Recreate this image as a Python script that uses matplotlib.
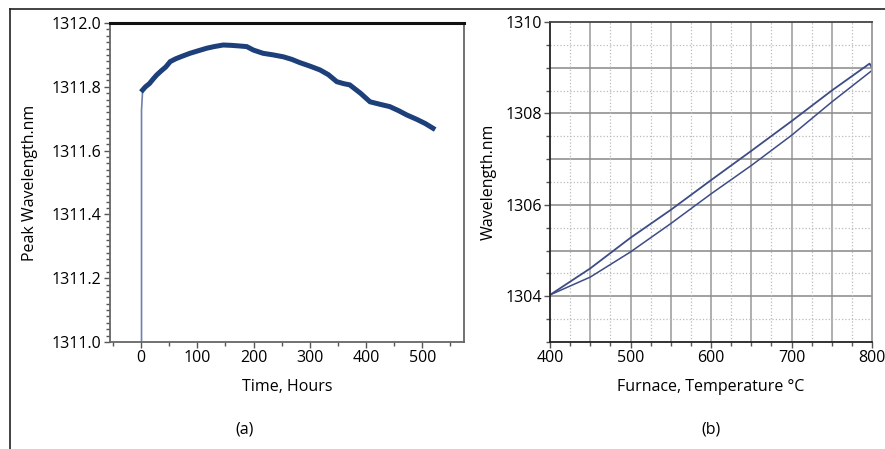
import matplotlib.pyplot as plt
from matplotlib.lines import Line2D
from matplotlib.ticker import MultipleLocator

plt.rcParams['font.family'] = ['Open Sans', 'DejaVu Sans']
FS = 11.5

# (a) peak wavelength versus time
time_jump = [1, 1, 3]
wl_jump = [1311.0, 1311.727, 1311.79]
time_h = [3, 8, 15, 22, 28, 36, 44, 52, 62, 72, 87, 100, 117, 130, 146, 160, 175,
          188, 200, 217, 235, 253, 268, 282, 300, 318, 333, 348, 360, 371, 390,
          407, 425, 442, 458, 472, 490, 505, 519]
wl_a = [1311.79, 1311.80, 1311.81, 1311.825, 1311.837, 1311.85, 1311.862, 1311.879,
        1311.888, 1311.895, 1311.905, 1311.912, 1311.921, 1311.926, 1311.931,
        1311.93, 1311.928, 1311.926, 1311.915, 1311.905, 1311.9, 1311.894,
        1311.886, 1311.876, 1311.865, 1311.853, 1311.838, 1311.816, 1311.81,
        1311.806, 1311.78, 1311.753, 1311.745, 1311.738, 1311.725, 1311.712,
        1311.698, 1311.685, 1311.67]

# (b) wavelength versus furnace temperature (heating / cooling loop)
temp_up = [400, 450, 500, 550, 600, 650, 700, 750, 797, 800]
wl_up = [1304.03, 1304.61, 1305.28, 1305.89, 1306.54, 1307.18, 1307.83, 1308.50,
         1309.09, 1309.0]
temp_down = [800, 750, 700, 650, 600, 550, 500, 450, 400]
wl_down = [1308.94, 1308.25, 1307.52, 1306.86, 1306.24, 1305.59, 1304.97, 1304.42,
           1304.03]

fig = plt.figure(figsize=(8.85, 4.49), dpi=100)
ax1 = fig.add_axes([110 / 885, 1 - 342 / 449, 354 / 885, 319 / 449])
ax2 = fig.add_axes([550 / 885, 1 - 342 / 449, 322 / 885, 320 / 449])

# panel a
ax1.plot(time_jump, wl_jump, color='#6f7fb0', lw=1.2)
ax1.plot(time_h, wl_a, color='#1d3f7a', lw=3.6, solid_joinstyle='miter')
ax1.set_xlim(-55, 574)
ax1.set_ylim(1311.0, 1312.0)
ax1.xaxis.set_major_locator(MultipleLocator(100))
ax1.xaxis.set_minor_locator(MultipleLocator(50))
ax1.yaxis.set_major_locator(MultipleLocator(0.2))
ax1.yaxis.set_minor_locator(MultipleLocator(0.02))
ax1.yaxis.set_major_formatter(plt.FormatStrFormatter('%.1f'))
ax1.set_xlabel('Time, Hours', fontsize=FS, labelpad=9)
ax1.set_ylabel('Peak Wavelength.nm', fontsize=FS, labelpad=10)
for s in ['left', 'right', 'bottom']:
    ax1.spines[s].set_color('#666666')
    ax1.spines[s].set_linewidth(1.3)
ax1.spines['top'].set_color('#111111')
ax1.spines['top'].set_linewidth(2.2)
ax1.tick_params(which='both', labelsize=FS, color='#555555', width=1, pad=2)
ax1.tick_params(which='major', length=4)
ax1.tick_params(which='minor', length=3)
ax1.text(0.38, -0.25, '(a)', transform=ax1.transAxes, ha='center', va='top', fontsize=FS)

# panel b
ax2.plot(temp_up, wl_up, color='#3d4c86', lw=1.3)
ax2.plot(temp_down, wl_down, color='#3d4c86', lw=1.1)
ax2.set_xlim(400, 800)
ax2.set_ylim(1303, 1310)
ax2.xaxis.set_major_locator(MultipleLocator(100))
ax2.xaxis.set_minor_locator(MultipleLocator(25))
ax2.yaxis.set_major_locator(MultipleLocator(2))
ax2.yaxis.set_minor_locator(MultipleLocator(0.5))
for x in range(450, 800, 50):
    ax2.axvline(x, color='#999999', lw=1.1, zorder=0)
for y in range(1304, 1310):
    ax2.axhline(y, color='#888888', lw=1.1, zorder=0)
for x in range(425, 800, 50):
    ax2.axvline(x, color='#bbbbbb', lw=0.9, ls=':', zorder=0)
for y in [1303.5, 1304.5, 1305.5, 1306.5, 1307.5, 1308.5, 1309.5]:
    ax2.axhline(y, color='#bbbbbb', lw=0.9, ls=':', zorder=0)
ax2.set_xlabel('Furnace, Temperature °C', fontsize=FS, labelpad=9)
ax2.set_ylabel('Wavelength.nm', fontsize=FS, labelpad=6)
ax2.spines['left'].set_color('#222222')
ax2.spines['bottom'].set_color('#222222')
ax2.spines['top'].set_color('#444444')
ax2.spines['right'].set_color('#999999')
for s in ax2.spines.values():
    s.set_linewidth(1.3)
ax2.tick_params(which='both', labelsize=FS, color='#555555', width=1, pad=2)
ax2.tick_params(which='major', length=4)
ax2.tick_params(which='minor', length=3)
ax2.text(0.5, -0.25, '(b)', transform=ax2.transAxes, ha='center', va='top', fontsize=FS)

# outer frame (top and left edges)
fig.add_artist(Line2D([10 / 885, 1], [1 - 9 / 449, 1 - 9 / 449], color='#222222', lw=1.2))
fig.add_artist(Line2D([10 / 885, 10 / 885], [0, 1 - 9 / 449], color='#222222', lw=1.2))

fig.savefig('out.png', dpi=100)
